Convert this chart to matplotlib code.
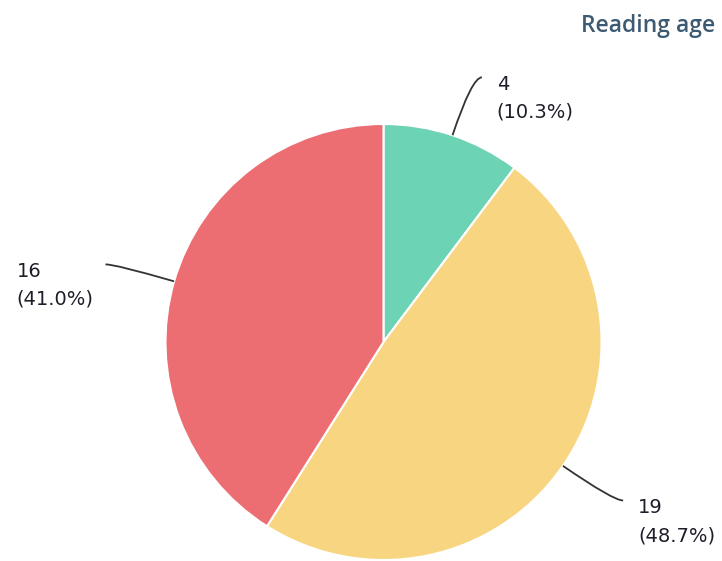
import matplotlib
matplotlib.use("Agg")
import matplotlib.pyplot as plt
import numpy as np
from matplotlib.path import Path
from matplotlib.patches import PathPatch

title = "Reading age"
labels = ["4", "19", "16"]
values = [4, 19, 16]
colors = ["#6dd3b5", "#f8d581", "#ec6e72"]

W, H = 722, 561
fig = plt.figure(figsize=(W / 100, H / 100), dpi=100)
ax = fig.add_axes([0, 0, 1, 1])
ax.set_xlim(0, W)
ax.set_ylim(0, H)
ax.set_aspect("equal")
ax.axis("off")

cx, cy, r = 383.5, H - 342, 218
wedges, _ = ax.pie(values, colors=colors, startangle=90, counterclock=False,
                   center=(cx, cy), radius=r, frame=True,
                   wedgeprops=dict(edgecolor="white", linewidth=1.5))
ax.set_xlim(0, W)
ax.set_ylim(0, H)
ax.axis("off")

total = sum(values)
for w, lab, v in zip(wedges, labels, values):
    th = np.deg2rad((w.theta1 + w.theta2) / 2)
    c, s = np.cos(th), np.sin(th)
    p0 = (cx + r * c, cy + r * s)
    p1 = (cx + 1.28 * r * c, cy + 1.28 * r * s)
    sign = 1 if c >= 0 else -1
    p2 = (p1[0] + sign * 10, p1[1])
    path = Path([p0, p1, p2], [Path.MOVETO, Path.CURVE3, Path.CURVE3])
    ax.add_patch(PathPatch(path, fill=False, edgecolor="#333333", lw=1.3))
    txt = f"{lab}\n({v / total * 100:.1f}%)"
    if sign > 0:
        ax.text(p2[0] + 15, p2[1] - 21, txt, ha="left", va="center",
                multialignment="left", fontsize=14, color="#1e1e2a",
                linespacing=1.6, family="DejaVu Sans")
    else:
        ax.text(p2[0] - 12, p2[1] - 21, txt, ha="right", va="center",
                multialignment="left", fontsize=14, color="#1e1e2a",
                linespacing=1.6, family="DejaVu Sans")

fig.text(715 / W, 1 - 26 / H, title, ha="right", va="center",
         fontsize=16.5, fontweight="semibold", color="#3d5a73", family="Open Sans")

fig.savefig("out.png", dpi=100)
